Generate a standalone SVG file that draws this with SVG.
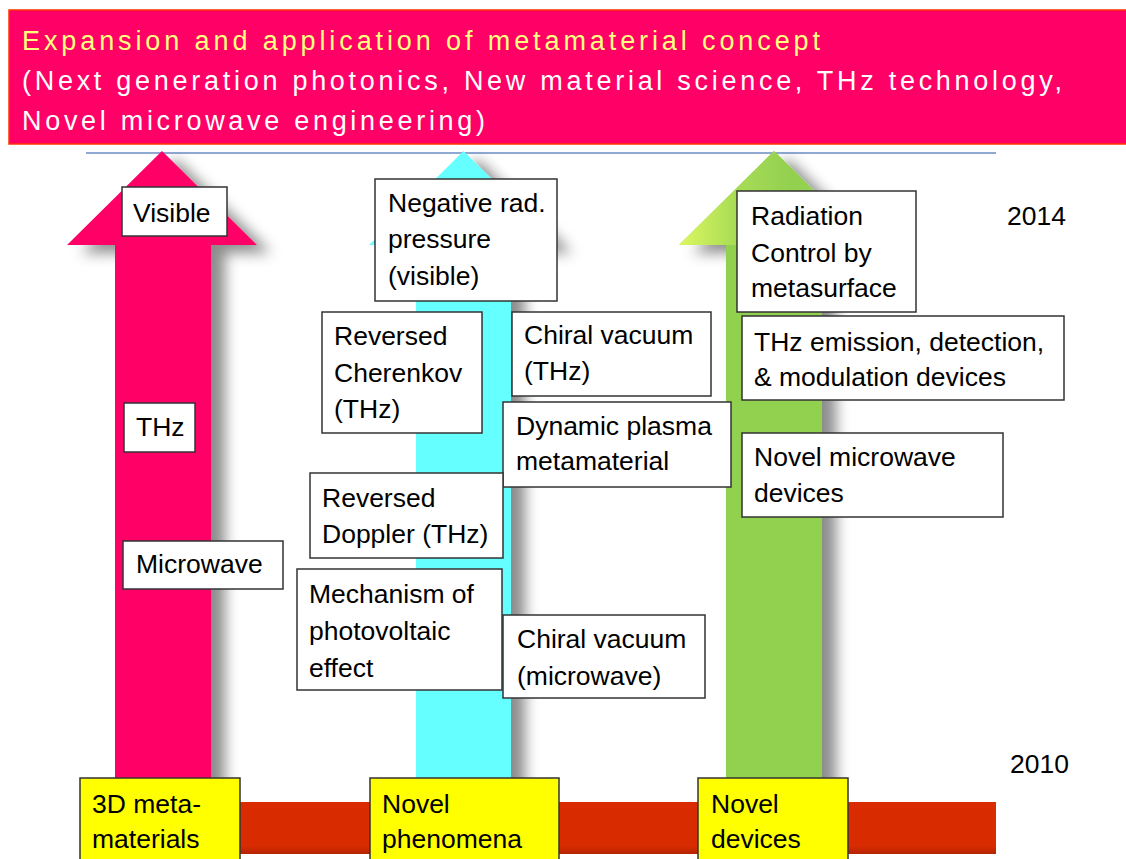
<svg xmlns="http://www.w3.org/2000/svg" width="1126" height="859" viewBox="0 0 1126 859">
<defs>
<filter id="shadow" x="-30%" y="-10%" width="160%" height="130%">
<feGaussianBlur in="SourceAlpha" stdDeviation="7"/>
<feOffset dx="14" dy="8" result="b"/>
<feFlood flood-color="#000" flood-opacity="0.45"/>
<feComposite in2="b" operator="in"/>
<feMerge><feMergeNode/><feMergeNode in="SourceGraphic"/></feMerge>
</filter>
<linearGradient id="gGreenHead" x1="679" y1="0" x2="869" y2="0" gradientUnits="userSpaceOnUse">
<stop offset="0" stop-color="#DDF760"/><stop offset="0.3" stop-color="#A8DC55"/><stop offset="0.6" stop-color="#92D050"/><stop offset="1" stop-color="#A5DA55"/>
</linearGradient>
<linearGradient id="gBar" x1="0" y1="0" x2="0" y2="1">
<stop offset="0" stop-color="#DA2C00"/><stop offset="0.85" stop-color="#D82B00"/><stop offset="1" stop-color="#B42400"/>
</linearGradient>
<style>
.box{fill:#fff;stroke:#333;stroke-width:1.5}
.ybox{fill:#FFFF00;stroke:#333;stroke-width:1.5}
.t{font-family:"Liberation Sans",Arial,sans-serif;font-size:26.5px;fill:#000}
.h{font-family:"Liberation Sans",Arial,sans-serif;font-size:27px}
</style>
</defs>

<g id="header">
<rect x="9" y="10" width="1125" height="134" fill="#FF0066" stroke="#FF3300" stroke-width="1.5"/>
<text class="h" x="22" y="50" fill="#FFFF80" textLength="798" lengthAdjust="spacing">Expansion and application of metamaterial concept</text>
<text class="h" x="22" y="90" fill="#FFFFFF" textLength="1040" lengthAdjust="spacing">(Next generation photonics, New material science, THz technology,</text>
<text class="h" x="22" y="130" fill="#FFFFFF" textLength="463" lengthAdjust="spacing">Novel microwave engineering)</text>
</g>

<line x1="86" y1="153" x2="996" y2="153" stroke="#8FA9D3" stroke-width="2"/>

<g id="arrows">
<path id="arrow-pink" d="M162,151 L257,245 L211,245 L211,810 L115,810 L115,245 L67,245 Z" fill="#FF0066" filter="url(#shadow)"/>
<path id="arrow-cyan" d="M463.5,151 L558,245 L511,245 L511,810 L416,810 L416,245 L369,245 Z" fill="#66FFFF" filter="url(#shadow)"/>
<g id="arrow-green" filter="url(#shadow)">
<path d="M774,151 L869,245 L822,245 L822,810 L726,810 L726,245 L679,245 Z" fill="#92D050"/>
<path d="M774,151 L869,245 L679,245 Z" fill="url(#gGreenHead)"/>
</g>
</g>

<rect id="timeline-bar" x="200" y="802" width="796" height="52" fill="url(#gBar)"/>

<g id="year-2014"><text class="t" x="1007" y="225">2014</text></g>
<g id="year-2010"><text class="t" x="1010" y="773">2010</text></g>

<g id="cat-3d">
<rect class="ybox" x="80" y="778" width="160" height="90"/>
<text class="t" x="92" y="813">3D meta-</text>
<text class="t" x="92" y="848">materials</text>
</g>
<g id="cat-phenomena">
<rect class="ybox" x="370" y="778" width="189" height="90"/>
<text class="t" x="382" y="813">Novel</text>
<text class="t" x="382" y="848">phenomena</text>
</g>
<g id="cat-devices">
<rect class="ybox" x="698" y="778" width="150" height="90"/>
<text class="t" x="711" y="813">Novel</text>
<text class="t" x="711" y="848">devices</text>
</g>

<g id="visible">
<rect class="box" x="122" y="187" width="105" height="49"/>
<text class="t" x="133" y="222">Visible</text>
</g>
<g id="thz">
<rect class="box" x="124" y="403" width="71" height="49"/>
<text class="t" x="136" y="436">THz</text>
</g>
<g id="microwave">
<rect class="box" x="123" y="541" width="160" height="48"/>
<text class="t" x="136" y="573">Microwave</text>
</g>

<g id="neg-rad">
<rect class="box" x="375" y="179" width="182" height="122"/>
<text class="t" x="388" y="212">Negative rad.</text>
<text class="t" x="388" y="248">pressure</text>
<text class="t" x="388" y="285">(visible)</text>
</g>
<g id="rev-cherenkov">
<rect class="box" x="322" y="312" width="160" height="121"/>
<text class="t" x="334" y="345">Reversed</text>
<text class="t" x="334" y="382">Cherenkov</text>
<text class="t" x="334" y="418">(THz)</text>
</g>
<g id="chiral-thz">
<rect class="box" x="512" y="312" width="199" height="84"/>
<text class="t" x="524" y="344">Chiral vacuum</text>
<text class="t" x="524" y="380">(THz)</text>
</g>
<g id="dyn-plasma">
<rect class="box" x="503" y="402" width="228" height="85"/>
<text class="t" x="516" y="435">Dynamic plasma</text>
<text class="t" x="516" y="470">metamaterial</text>
</g>
<g id="rev-doppler">
<rect class="box" x="310" y="473" width="193" height="85"/>
<text class="t" x="322" y="507">Reversed</text>
<text class="t" x="322" y="543">Doppler (THz)</text>
</g>
<g id="mechanism">
<rect class="box" x="297" y="569" width="205" height="121"/>
<text class="t" x="309" y="603">Mechanism of</text>
<text class="t" x="309" y="640">photovoltaic</text>
<text class="t" x="309" y="677">effect</text>
</g>
<g id="chiral-mw">
<rect class="box" x="503" y="615" width="202" height="83"/>
<text class="t" x="517" y="648">Chiral vacuum</text>
<text class="t" x="517" y="685">(microwave)</text>
</g>

<g id="radiation">
<rect class="box" x="737" y="191" width="179" height="121"/>
<text class="t" x="751" y="225">Radiation</text>
<text class="t" x="751" y="262">Control by</text>
<text class="t" x="751" y="297">metasurface</text>
</g>
<g id="thz-emission">
<rect class="box" x="742" y="316" width="322" height="84"/>
<text class="t" x="754" y="351">THz emission, detection,</text>
<text class="t" x="754" y="386">&amp; modulation devices</text>
</g>
<g id="novel-mw">
<rect class="box" x="742" y="433" width="261" height="84"/>
<text class="t" x="754" y="466">Novel microwave</text>
<text class="t" x="754" y="502">devices</text>
</g>
</svg>
